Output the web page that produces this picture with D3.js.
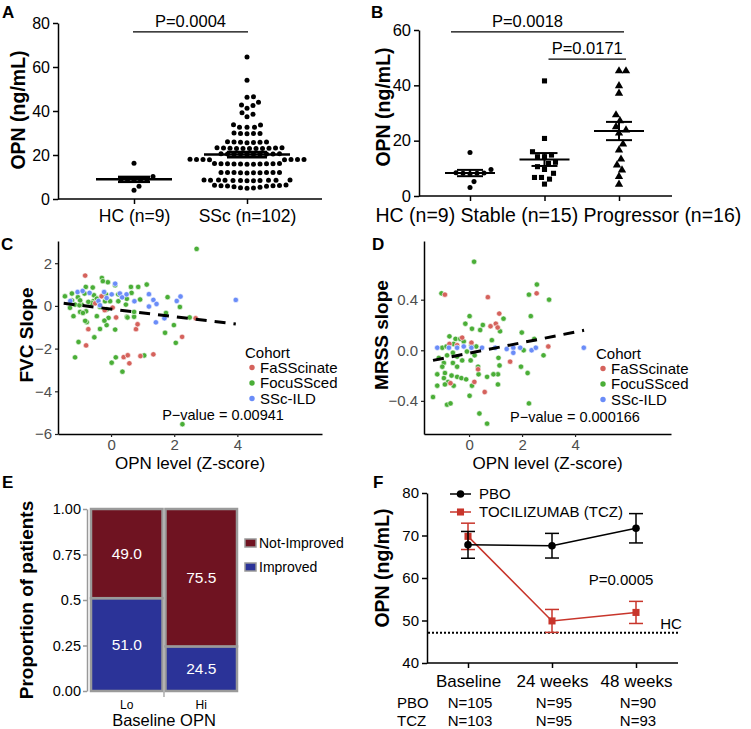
<!DOCTYPE html>
<html>
<head>
<meta charset="utf-8">
<script src="https://cdn.jsdelivr.net/npm/d3@7"></script>
<style>
body { margin: 0; background: #fff; }
svg { font-family: "Liberation Sans", Arial, sans-serif; }
</style>
</head>
<body>
<div id="chart"></div>
<script>
// ---------- data ----------
// A
var aGroups = ["HC (n=9)", "SSc (n=102)"];
var aHC = [16.3, 10.2, 9.0, 8.9, 8.8, 8.7, 8.6, 5.8, 4.0];
var aSSc = [64.5, 54.0, 46.5, 46.3, 44.0, 42.7, 42.5, 41.2, 39.2, 38.5, 37.4,
	33.8, 33.6, 32.6, 32.6, 32.6,
	30.0, 29.8, 29.8, 29.8, 29.7,
	26.0, 25.9, 25.9, 25.8, 25.8, 25.7, 25.6,
	23.3, 23.3, 23.2, 23.2, 23.1, 23.1, 23.0, 23.0, 23.0, 22.9, 22.9,
	20.6, 20.6, 20.5, 20.5, 20.5, 20.4, 20.4, 20.4, 20.3, 20.3,
	18.1, 18.0, 18.0, 18.0, 17.9, 17.9, 17.8, 17.8,
	16.1, 16.1, 16.0, 16.0, 16.0, 16.0, 15.9, 15.9, 15.9, 15.8, 15.8,
	12.1, 12.1, 12.0, 12.0, 12.0, 12.0, 11.9, 11.9, 11.9, 11.8,
	8.6, 8.6, 8.6, 8.5, 8.5, 8.5, 8.5, 8.4, 8.4, 8.4, 8.3, 8.3,
	6.4, 6.2, 6.1, 6.0, 6.0, 5.9, 5.8, 5.6,
	5.3, 5.1, 5.0, 4.9];
var aYTicks = [0, 20, 40, 60, 80];
var aPText = "P=0.0004", aPLevel = 76;

// B
var bGroups = ["HC (n=9)", "Stable (n=15)", "Progressor (n=16)"];
var bHC = [15.7, 9.6, 8.4, 8.2, 8.0, 8.3, 8.2, 5.2, 3.1];
var bStable = [41.6, 20.8, 16.0, 14.8, 14.2, 14.2, 12.2, 11.8, 10.6, 9.6, 8.2, 6.7, 6.7, 6.1, 4.3];
var bProg = [45.2, 45.2, 39.8, 37.1, 29.3, 27.2, 25.0, 23.8, 22.7, 18.8, 16.6, 13.3, 11.2, 9.4, 7.0, 4.2];
var bYTicks = [0, 20, 40, 60];
var bPText = ["P=0.0018", "P=0.0171"], bPLevel = [59.3, 49.5];

// C
var cohorts = ["FaSScinate", "FocuSSced", "SSc-ILD"];
var cRed = [[-0.82,1.42],[-0.72,-1.09],[-0.79,-1.85],[0.16,-0.54],[0.79,-1.09],[0.84,-0.86],[0.40,-2.40],
	[0.53,-2.31],[0.58,-2.69],[0.93,-2.35],[1.34,-2.27],[2.25,-1.45],[2.68,-0.58],[-0.5,0.12],[0.05,-0.08],
	[-0.3,0.45],[-0.2,-0.2]];
var cGreen = [[-1.46,0.45],[-1.24,0.58],[-1.05,0.41],[-0.84,0.58],[-0.80,0.89],[-1.24,0.25],[-1.30,-0.09],
	[-1.14,0.06],[-0.98,-0.28],[-1.19,-0.48],[-0.79,-0.25],[-0.77,-0.76],[-0.35,-1.08],[-0.14,-0.90],
	[0.13,-1.11],[-0.53,-1.47],[-1.03,-1.69],[-0.56,0.22],[-0.45,0.37],[-0.19,0.45],[-0.19,0.22],
	[-0.03,0.22],[0.23,0.22],[0.50,0.33],[0.47,0.06],[0.50,-0.51],[0.73,-0.51],[0.92,0.30],[1.79,0.41],
	[1.74,-0.33],[1.99,-0.90],[1.71,-1.26],[2.05,-1.73],[-0.08,-0.56],[-0.21,-0.69],[-0.66,0.14],
	[-0.93,0.06],[-0.29,1.31],[-0.10,1.11],[-0.26,1.16],[0.13,0.97],[0.63,0.89],[0.86,0.89],[1.13,1.0],
	[-1.14,-2.41],[0.02,-2.66],[0.15,-2.41],[0.36,-3.08],[1.05,-2.32],[2.26,-5.54],[2.71,2.67],
	[2.18,-0.05],[2.49,-0.54],[-0.58,0.86],[-0.54,0.50],[-0.61,0.14],[-0.45,-0.48],[-0.16,0.54],
	[0.23,0.54],[0.65,0.61],[0.52,-0.54],[0.73,-0.28],[-0.72,0.19],[-0.35,-0.05],[-0.14,-0.17],
	[-1.0,0.03],[-0.98,0.26],[-0.82,-0.70],[-0.89,-0.33],[-0.45,0.34]];
var cBlue = [[-1.29,0.23],[-1.06,0.65],[-0.68,0.61],[-0.40,0.23],[-0.22,0.65],[-0.14,0.37],[0.13,1.04],
	[0.02,0.54],[0.49,0.54],[0.74,0.22],[1.20,0.55],[1.34,0.28],[1.44,0.09],[1.20,-0.03],[1.42,-0.77],
	[1.69,-0.58],[2.08,0.23],[2.20,0.44],[3.95,0.28],[-0.35,0.03],[0.28,0.58],[-0.9,0.7],[0.35,0.4]];
var cFit = [[-1.5, 0.12], [3.95, -0.85]];
var cXTicks = [0, 2, 4], cYTicks = [-6, -4, -2, 0, 2];
var cPText = "P\u2212value = 0.00941";

// D
var dRed = [[-0.91,0.44],[0.71,0.42],[2.55,0.45],[1.14,0.29],[1.01,0.21],[1.08,0.18],[0.81,0.19],
	[0.09,0.06],[-0.26,0.10],[-0.74,0.05],[-0.45,0.04],[0.34,-0.15],[1.55,-0.09],[0.59,-0.33],
	[0.2,-0.25],[2.99,0.03],[-0.7,-0.26]];
var dGreen = [[-1.04,0.45],[0.19,0.70],[2.56,0.52],[2.26,0.44],[3.02,0.40],[2.33,0.27],[1.99,0.14],
	[2.46,0.09],[2.06,0.0],[2.81,-0.04],[1.96,-0.13],[2.21,-0.18],[2.26,-0.42],[0.39,-0.50],[0.68,-0.58],
	[-1.36,-0.37],[-0.83,-0.43],[-0.7,-0.42],[-1.2,-0.28],[0.02,0.27],[-0.14,0.21],[0.11,0.17],[0.52,0.2],
	[0.42,0.16],[0.86,0.08],[1.3,0.25],[1.17,0.15],[1.11,-0.06],[1.15,-0.12],[1.09,-0.19],[1.09,-0.27],
	[0.92,-0.19],[0.68,-0.21],[0.02,-0.36],[0.11,-0.28],[0.36,-0.19],[0.34,-0.13],[-0.74,0.11],
	[-0.51,0.09],[-0.33,0.09],[-0.2,0.07],[0.27,0.03],[-1.01,0.02],[-0.85,0.03],[-1.14,-0.06],
	[-0.95,-0.1],[-0.83,-0.04],[-0.61,-0.02],[-0.45,-0.05],[-0.26,-0.08],[-0.61,-0.1],[-0.45,-0.13],
	[-1.01,-0.13],[-1.2,-0.19],[-0.91,-0.18],[-0.66,-0.2],[-0.45,-0.21],[-0.29,-0.22],[-0.11,-0.23],
	[-0.95,-0.22],[-0.79,-0.25],[-0.58,-0.28],[-0.91,-0.27],[0.09,0.04],[0.06,-0.08],[0.21,-0.04],
	[-0.08,-0.01],[-0.58,0.05]];
var dBlue = [[-1.2,0.02],[-0.2,0.03],[0.49,0.02],[0.99,0.02],[1.42,0.01],[1.67,0.02],[1.67,-0.02],
	[1.93,0.02],[2.36,0.0],[2.52,0.02],[4.33,0.02],[-0.76,0.02],[-0.45,0.02],[0.09,0.02]];
var dFit = [[-1.36, -0.08], [4.34, 0.158]];
var dXTicks = [0, 2, 4], dYTicks = [-0.4, 0, 0.4];
var dPText = "P\u2212value = 0.000166";

// E
var eGroups = ["Lo", "Hi"];
var eImproved = [51.0, 24.5];
var eNotImproved = [49.0, 75.5];
var eYTicks = [0, 0.25, 0.5, 0.75, 1];
var eYLabels = ["0.00", "0.25", "0.5", "0.75", "1.00"];

// F
var fTimes = ["Baseline", "24 weeks", "48 weeks"];
var fPBO = [67.8, 67.6, 71.7], fPBOErr = [3.15, 2.9, 3.45];
var fTCZ = [69.8, 49.9, 51.9], fTCZErr = [3.1, 2.7, 2.6];
var fHC = 47.1;
var fNPBO = ["N=105", "N=95", "N=90"], fNTCZ = ["N=103", "N=95", "N=93"];
var fYTicks = [40, 50, 60, 70, 80];

var colRed = "#d5625c", colGreen = "#4aae37", colBlue = "#6a8cf8";
var colNot = "#6f1321", colImp = "#2b3398";

// ---------- helpers ----------
var svg = d3.select("#chart").append("svg")
	.attr("width", 751)
	.attr("height", 729);

function styleAxis(g, size, textColor, lineColor, width) {
	g.attr("font-family", null).attr("font-size", null);
	g.selectAll("path.domain, .tick line").attr("stroke", lineColor).attr("stroke-width", width);
	g.selectAll(".tick text").attr("font-size", size).attr("fill", textColor);
}

function yTitle(x, y, t, size) {
	svg.append("text")
		.attr("transform", "translate(" + x + "," + y + ") rotate(-90)")
		.attr("text-anchor", "middle")
		.attr("font-size", size)
		.attr("font-weight", "bold")
		.text(t);
}

function letter(x, y, t) {
	svg.append("text").attr("x", x).attr("y", y)
		.attr("font-size", 17).attr("font-weight", "bold").text(t);
}

// simple beeswarm: returns pixel y and x offset for each value
function swarm(values, scale, dist, step) {
	var placed = [];
	values.slice().sort(function(a, b) { return a - b; }).forEach(function(v) {
		var py = scale(v), k = 0, dx = 0;
		while (true) {
			dx = (k % 2 ? 1 : -1) * Math.ceil(k / 2) * step;
			var ok = placed.every(function(p) {
				return (p.dx - dx) * (p.dx - dx) + (p.py - py) * (p.py - py) >= dist * dist;
			});
			if (ok) break;
			k++;
		}
		placed.push({ v: v, py: py, dx: dx });
	});
	return placed;
}

function meanSem(g, cx, vals, scale, half, cap, w) {
	var m = d3.mean(vals), se = d3.deviation(vals) / Math.sqrt(vals.length);
	g.append("line").attr("x1", cx - half).attr("x2", cx + half)
		.attr("y1", scale(m)).attr("y2", scale(m)).attr("stroke", "#000").attr("stroke-width", w);
	[m - se, m + se].forEach(function(v) {
		g.append("line").attr("x1", cx - cap).attr("x2", cx + cap)
			.attr("y1", scale(v)).attr("y2", scale(v)).attr("stroke", "#000").attr("stroke-width", w);
	});
	g.append("line").attr("x1", cx).attr("x2", cx)
		.attr("y1", scale(m - se)).attr("y2", scale(m + se)).attr("stroke", "#000").attr("stroke-width", w);
}

// ---------- A ----------
var gA = svg.append("g");
var aY = d3.scaleLinear().domain([0, 80]).range([199, 23]);
var aX = d3.scalePoint().domain(aGroups).range([134, 247]);

var axA = gA.append("g").attr("transform", "translate(58,0)")
	.call(d3.axisLeft(aY).tickValues(aYTicks).tickSize(5).tickSizeOuter(0).tickPadding(3));
styleAxis(axA, 16, "#000", "#000", 1.5);
var axAx = gA.append("g").attr("transform", "translate(0,199)")
	.call(d3.axisBottom(aX).tickSize(5).tickSizeOuter(0).tickPadding(6));
axAx.select(".domain").attr("d", "M58,0H322");
styleAxis(axAx, 17.5, "#000", "#000", 1.5);

[aHC, aSSc].forEach(function(vals, gi) {
	var cx = aX(aGroups[gi]);
	var pts = swarm(vals, aY, 6.2, 0.5);
	gA.selectAll(null).data(pts).enter().append("circle")
		.attr("cx", function(d) { return cx + d.dx; })
		.attr("cy", function(d) { return d.py; })
		.attr("r", 2.5)
		.attr("fill", "#000");
	meanSem(gA, cx, vals, aY, [38, 43][gi], [16, 20][gi], 2.5);
});
gA.append("line").attr("x1", aX(aGroups[0]) - 1).attr("x2", aX(aGroups[1]) + 1)
	.attr("y1", aY(aPLevel)).attr("y2", aY(aPLevel)).attr("stroke", "#000").attr("stroke-width", 1.3);
gA.append("text").attr("x", (aX(aGroups[0]) + aX(aGroups[1])) / 2).attr("y", aY(aPLevel) - 5)
	.attr("text-anchor", "middle").attr("font-size", 16.5).text(aPText);
yTitle(25, 110, "OPN (ng/mL)", 19.5);
letter(2, 18, "A");

// ---------- B ----------
var gB = svg.append("g");
var bY = d3.scaleLinear().domain([0, 60]).range([196, 30]);
var bX = d3.scalePoint().domain(bGroups).range([470, 619]);

var axB = gB.append("g").attr("transform", "translate(419,0)")
	.call(d3.axisLeft(bY).tickValues(bYTicks).tickSize(5).tickSizeOuter(0).tickPadding(3));
styleAxis(axB, 16.5, "#000", "#000", 1.5);
var axBx = gB.append("g").attr("transform", "translate(0,196)")
	.call(d3.axisBottom(bX).tickSize(5).tickSizeOuter(0).tickPadding(7));
axBx.select(".domain").attr("d", "M419,0H672");
styleAxis(axBx, 19.5, "#000", "#000", 1.5);
// labels are packed side by side (one space apart) in the original
var bCursor = 375;
axBx.selectAll(".tick text")
	.attr("text-anchor", "start")
	.each(function(d) {
		d3.select(this).attr("x", bCursor - bX(d));
		bCursor += this.getComputedTextLength() + 5.4;
	});

var bShapes = [d3.symbolCircle, d3.symbolSquare, d3.symbolTriangle];
var bSizes = [20, 26, 30];
[bHC, bStable, bProg].forEach(function(vals, gi) {
	var cx = bX(bGroups[gi]);
	var pts = swarm(vals, bY, 7, 1);
	gB.selectAll(null).data(pts).enter().append("path")
		.attr("transform", function(d) { return "translate(" + (cx + d.dx) + "," + d.py + ")"; })
		.attr("d", d3.symbol().type(bShapes[gi]).size(bSizes[gi]))
		.attr("fill", "#000");
	meanSem(gB, cx, vals, bY, 25, 13, 2);
});
var bBars = [[bX(bGroups[0]) - 19, bX(bGroups[2]) + 5], [bX(bGroups[1]) + 4, bX(bGroups[2]) + 7]];
bBars.forEach(function(b, i) {
	gB.append("line").attr("x1", b[0]).attr("x2", b[1])
		.attr("y1", bY(bPLevel[i])).attr("y2", bY(bPLevel[i])).attr("stroke", "#000").attr("stroke-width", 1.3);
	gB.append("text").attr("x", (b[0] + b[1]) / 2 - (i ? 0 : 10)).attr("y", bY(bPLevel[i]) - 5)
		.attr("text-anchor", "middle").attr("font-size", 16.5).text(bPText[i]);
});
yTitle(390, 107, "OPN (ng/mL)", 19.5);
letter(371, 18, "B");

// ---------- C & D (ggplot style scatter) ----------
function scatterPanel(opt) {
	var g = svg.append("g");
	var x = d3.scaleLinear().domain(opt.xDomain).range(opt.xRange);
	var y = d3.scaleLinear().domain(opt.yDomain).range(opt.yRange);

	var axY = g.append("g").attr("transform", "translate(" + opt.xRange[0] + ",0)")
		.call(d3.axisLeft(y).tickValues(opt.yTicks).tickFormat(opt.yFormat).tickSize(3).tickSizeOuter(0).tickPadding(3));
	styleAxis(axY, 15, "#4d4d4d", "#222", 1.2);
	axY.select(".domain").attr("stroke", "#000").attr("stroke-width", 1.5);
	var axX = g.append("g").attr("transform", "translate(0," + opt.yRange[0] + ")")
		.call(d3.axisBottom(x).tickValues(opt.xTicks).tickFormat(d3.format("d")).tickSize(3).tickSizeOuter(0).tickPadding(2));
	styleAxis(axX, 15, "#4d4d4d", "#222", 1.2);
	axX.select(".domain").attr("stroke", "#000").attr("stroke-width", 1.5);

	var sets = [[opt.green, colGreen], [opt.red, colRed], [opt.blue, colBlue]];
	sets.forEach(function(s) {
		g.selectAll(null).data(s[0]).enter().append("circle")
			.attr("cx", function(d) { return x(d[0]); })
			.attr("cy", function(d) { return y(d[1]); })
			.attr("r", 2.7)
			.attr("fill", s[1])
			.attr("stroke", "#fff")
			.attr("stroke-width", 0.6);
	});

	g.append("path").datum(opt.fit)
		.attr("d", d3.line().x(function(d) { return x(d[0]); }).y(function(d) { return y(d[1]); }))
		.attr("stroke", "#000").attr("stroke-width", 3).attr("stroke-dasharray", "11,8").attr("fill", "none");

	// legend
	var lg = g.append("g").attr("transform", "translate(" + opt.legend[0] + "," + opt.legend[1] + ")");
	lg.append("text").attr("x", 0).attr("y", 0).attr("font-size", 15).text("Cohort");
	[colRed, colGreen, colBlue].forEach(function(c, i) {
		lg.append("circle").attr("cx", 7).attr("cy", 9.5 + i * 15.5).attr("r", 2.7).attr("fill", c);
		lg.append("text").attr("x", 15).attr("y", 14.5 + i * 15.5).attr("font-size", 15).text(cohorts[i]);
	});

	g.append("text").attr("x", opt.pPos[0]).attr("y", opt.pPos[1])
		.attr("text-anchor", "middle").attr("font-size", 14.5).text(opt.pText);
	g.append("text").attr("x", (opt.xRange[0] + opt.xRange[1]) / 2).attr("y", 469)
		.attr("text-anchor", "middle").attr("font-size", 17).text("OPN level (Z-score)");
}

scatterPanel({
	xDomain: [-1.68, 6.68], xRange: [58, 322],
	yDomain: [-6, 3.04], yRange: [434, 241],
	xTicks: cXTicks, yTicks: cYTicks, yFormat: d3.format("d"),
	red: cRed, green: cGreen, blue: cBlue, fit: cFit,
	legend: [245, 358], pPos: [223, 420], pText: cPText
});
yTitle(33, 335, "FVC Slope", 19);
letter(1, 250, "C");

scatterPanel({
	xDomain: [-1.7, 7.62], xRange: [424, 671],
	yDomain: [-0.662, 0.864], yRange: [434, 241],
	xTicks: dXTicks, yTicks: dYTicks, yFormat: d3.format(".1f"),
	red: dRed, green: dGreen, blue: dBlue, fit: dFit,
	legend: [596, 359], pPos: [575, 422], pText: dPText
});
yTitle(388, 335, "MRSS slope", 19);
letter(372, 250, "D");

// ---------- E (mosaic) ----------
var gE = svg.append("g");
var eY = d3.scaleLinear().domain([0, 1]).range([691, 509]);
var eX = d3.scaleBand().domain(eGroups).range([91, 237]).paddingInner(0.04);
var eRows = eGroups.map(function(g, i) {
	return { group: g, Improved: eImproved[i] / 100, NotImproved: eNotImproved[i] / 100 };
});
var eStack = d3.stack().keys(["Improved", "NotImproved"])(eRows);
var eColors = [colImp, colNot];

var axE = gE.append("g").attr("transform", "translate(87,0)")
	.call(d3.axisLeft(eY).tickValues(eYTicks).tickFormat(function(d, i) { return eYLabels[i]; })
		.tickSize(4).tickSizeOuter(0).tickPadding(2));
styleAxis(axE, 14.5, "#000", "#999", 1.5);

eStack.forEach(function(layer, li) {
	gE.selectAll(null).data(layer).enter().append("rect")
		.attr("x", function(d) { return eX(d.data.group); })
		.attr("y", function(d) { return eY(d[1]); })
		.attr("width", eX.bandwidth())
		.attr("height", function(d) { return eY(d[0]) - eY(d[1]); })
		.attr("fill", eColors[li])
		.attr("stroke", "#9a9a9a")
		.attr("stroke-width", 2.5);
	gE.selectAll(null).data(layer).enter().append("text")
		.attr("x", function(d) { return eX(d.data.group) + eX.bandwidth() / 2; })
		.attr("y", function(d) { return eY((d[0] + d[1]) / 2); })
		.attr("dy", "0.35em")
		.attr("text-anchor", "middle")
		.attr("fill", "#fff")
		.attr("font-size", 15.5)
		.text(function(d) { return (100 * (d[1] - d[0])).toFixed(1); });
});
gE.selectAll(null).data(eGroups).enter().append("text")
	.attr("x", function(d) { return eX(d) + eX.bandwidth() / 2; })
	.attr("y", 709)
	.attr("text-anchor", "middle")
	.attr("font-size", 12)
	.text(function(d) { return d; });
gE.append("line")
	.attr("x1", eX("Hi") - 1.5).attr("x2", eX("Hi") - 1.5)
	.attr("y1", 692).attr("y2", 697).attr("stroke", "#999").attr("stroke-width", 1.2);
gE.append("text").attr("x", 164).attr("y", 726).attr("text-anchor", "middle")
	.attr("font-size", 16.5).text("Baseline OPN");

var eLegend = [["Not-Improved", colNot], ["Improved", colImp]];
eLegend.forEach(function(l, i) {
	gE.append("rect").attr("x", 245).attr("y", 539 + i * 24).attr("width", 11).attr("height", 8)
		.attr("fill", l[1]).attr("stroke", "#999").attr("stroke-width", 1.5);
	gE.append("text").attr("x", 259).attr("y", 548 + i * 24).attr("font-size", 14).text(l[0]);
});
yTitle(33, 600, "Proportion of patients", 19);
letter(2, 488, "E");

// ---------- F ----------
var gF = svg.append("g");
var fY = d3.scaleLinear().domain([40, 80]).range([663, 493]);
var fX = d3.scalePoint().domain(fTimes).range([468, 636]);

var axF = gF.append("g").attr("transform", "translate(427,0)")
	.call(d3.axisLeft(fY).tickValues(fYTicks).tickSize(5).tickSizeOuter(0).tickPadding(3));
styleAxis(axF, 15, "#000", "#000", 1.5);
var axFx = gF.append("g").attr("transform", "translate(0,663)")
	.call(d3.axisBottom(fX).tickSize(5).tickSizeOuter(0).tickPadding(7));
axFx.select(".domain").attr("d", "M427,0H678");
styleAxis(axFx, 17, "#000", "#000", 1.5);

gF.append("line").attr("x1", 428).attr("x2", 678)
	.attr("y1", fY(fHC)).attr("y2", fY(fHC))
	.attr("stroke", "#000").attr("stroke-width", 2).attr("stroke-dasharray", "2,2");
gF.append("text").attr("x", 671).attr("y", fY(fHC) - 4).attr("text-anchor", "middle")
	.attr("font-size", 15).text("HC");

function fSeries(vals, errs, color, shape, size) {
	var pts = fTimes.map(function(t, i) { return { t: t, v: vals[i], e: errs[i] }; });
	gF.append("path").datum(pts)
		.attr("d", d3.line().x(function(d) { return fX(d.t); }).y(function(d) { return fY(d.v); }))
		.attr("stroke", color).attr("stroke-width", 1.5).attr("fill", "none");
	var eb = gF.selectAll(null).data(pts).enter().append("g").attr("stroke", color).attr("stroke-width", 1.5);
	eb.append("line")
		.attr("x1", function(d) { return fX(d.t); }).attr("x2", function(d) { return fX(d.t); })
		.attr("y1", function(d) { return fY(d.v - d.e); }).attr("y2", function(d) { return fY(d.v + d.e); });
	[-1, 1].forEach(function(s) {
		eb.append("line")
			.attr("x1", function(d) { return fX(d.t) - 7; }).attr("x2", function(d) { return fX(d.t) + 7; })
			.attr("y1", function(d) { return fY(d.v + s * d.e); }).attr("y2", function(d) { return fY(d.v + s * d.e); });
	});
	gF.selectAll(null).data(pts).enter().append("path")
		.attr("transform", function(d) { return "translate(" + fX(d.t) + "," + fY(d.v) + ")"; })
		.attr("d", d3.symbol().type(shape).size(size))
		.attr("fill", color);
}
fSeries(fTCZ, fTCZErr, "#c8352b", d3.symbolSquare, 50);
fSeries(fPBO, fPBOErr, "#000", d3.symbolCircle, 45);

gF.append("text").attr("x", 621).attr("y", 585).attr("text-anchor", "middle")
	.attr("font-size", 15).text("P=0.0005");

// legend
var fLegend = [["PBO", "#000", d3.symbolCircle, 45], ["TOCILIZUMAB (TCZ)", "#c8352b", d3.symbolSquare, 50]];
fLegend.forEach(function(l, i) {
	var ly = 494 + i * 18;
	gF.append("line").attr("x1", 450).attr("x2", 471).attr("y1", ly).attr("y2", ly)
		.attr("stroke", l[1]).attr("stroke-width", 1.5);
	gF.append("path").attr("transform", "translate(460.5," + ly + ")")
		.attr("d", d3.symbol().type(l[2]).size(l[3])).attr("fill", l[1]);
	gF.append("text").attr("x", 479).attr("y", ly + 5).attr("font-size", 15).text(l[0]);
});

// N table
[["PBO", fNPBO, 708], ["TCZ", fNTCZ, 726]].forEach(function(r) {
	gF.append("text").attr("x", 397).attr("y", r[2]).attr("font-size", 15).text(r[0]);
	gF.selectAll(null).data(r[1]).enter().append("text")
		.attr("x", function(d, i) { return fX(fTimes[i]) + 2; })
		.attr("y", r[2])
		.attr("text-anchor", "middle")
		.attr("font-size", 15)
		.text(function(d) { return d; });
});
yTitle(389, 568, "OPN (ng/mL)", 19.5);
letter(373, 488, "F");
</script>
</body>
</html>
